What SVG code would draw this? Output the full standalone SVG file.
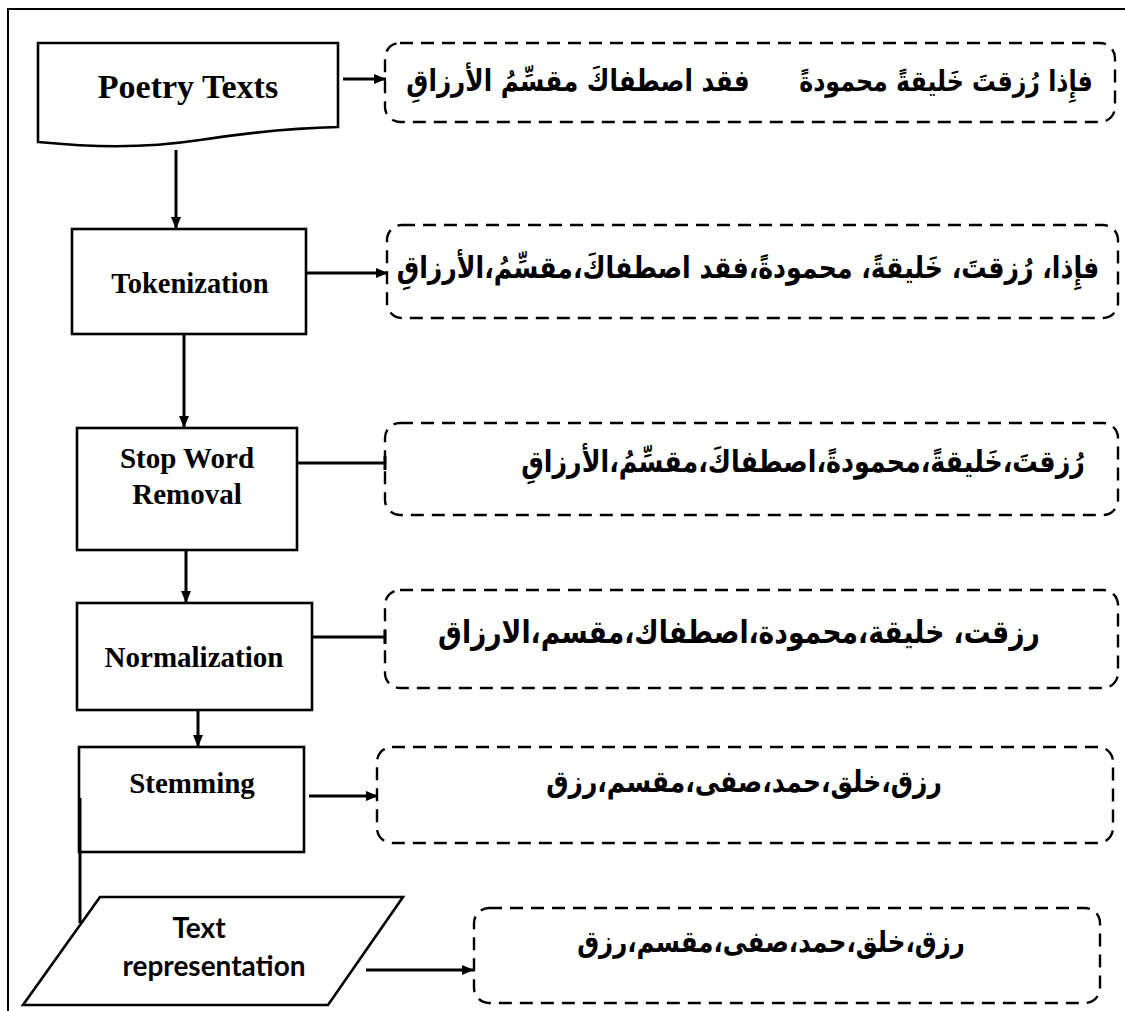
<svg xmlns="http://www.w3.org/2000/svg" width="1125" height="1011" viewBox="0 0 1125 1011">
  <style>
    .node { fill: #ffffff; stroke: #000000; stroke-width: 2.6; }
    .out { fill: #ffffff; stroke: #000000; stroke-width: 2.4; stroke-dasharray: 13 8; }
    .lbl { font-family: "Liberation Serif", "Times New Roman", serif; font-weight: bold; fill: #000000; text-anchor: middle; }
    .lbl2 { font-family: Lato, "Liberation Sans", sans-serif; font-weight: bold; fill: #000000; text-anchor: middle; }
    .ar { font-family: "DejaVu Sans", sans-serif; font-weight: bold; fill: #000000; text-anchor: middle; }
    .edge { fill: none; stroke: #000000; stroke-width: 3; }
    .frame { fill: none; stroke: #000000; stroke-width: 2; }
  </style>
  <defs>
    <marker id="arrow" markerUnits="userSpaceOnUse" markerWidth="14" markerHeight="14" viewBox="0 0 14 14" refX="13" refY="7" orient="auto">
      <path d="M1,2 L13,7 L1,12 Z" fill="#000000"/>
    </marker>
    <marker id="tick" markerUnits="userSpaceOnUse" markerWidth="4" markerHeight="16" viewBox="0 0 4 16" refX="2" refY="8" orient="auto">
      <rect x="0.5" y="1" width="3" height="14" fill="#000000"/>
    </marker>
  </defs>

  <rect width="1125" height="1011" fill="#ffffff"/>

  <!-- page frame -->
  <path class="frame" d="M1125,9 H8 V1011"/>

  <!-- process nodes -->
  <g id="poetry-texts">
    <path class="node" d="M38,43 H338 V127 C290,128 240,134 200,140 C140,149 90,147 38,142 Z"/>
    <text class="lbl" x="188" y="98" font-size="34">Poetry Texts</text>
  </g>
  <g id="tokenization">
    <rect class="node" x="72" y="229" width="234" height="105"/>
    <text class="lbl" x="190" y="293" font-size="28.5">Tokenization</text>
  </g>
  <g id="stop-word-removal">
    <rect class="node" x="77" y="428" width="220" height="122"/>
    <text class="lbl" x="187" y="468" font-size="29">Stop Word</text>
    <text class="lbl" x="187" y="504" font-size="29">Removal</text>
  </g>
  <g id="normalization">
    <rect class="node" x="77" y="603" width="235" height="107"/>
    <text class="lbl" x="194" y="667" font-size="29">Normalization</text>
  </g>
  <g id="stemming">
    <rect class="node" x="79" y="747" width="225" height="105"/>
    <text class="lbl" x="192" y="793" font-size="29">Stemming</text>
  </g>
  <g id="text-representation">
    <path class="node" d="M100,897 H403 L328,1005 H23 Z"/>
    <text class="lbl2" x="199" y="938" font-size="28">Text</text>
    <text class="lbl2" x="214" y="976" font-size="28">representation</text>
  </g>

  <!-- example outputs (Arabic lines drawn slightly taller than wide) -->
  <g id="out-poetry">
    <rect class="out" x="385" y="43" width="730" height="79" rx="15"/>
    <text class="ar" transform="translate(946,91) scale(1,1.2)" font-size="23.7" direction="rtl">فإِذا رُزقتَ خَليقةً محمودةً</text>
    <text class="ar" transform="translate(578,91) scale(1,1.2)" font-size="24.7" direction="rtl">فقد اصطفاكَ مقسِّمُ الأرزاقِ</text>
  </g>
  <g id="out-tokens">
    <rect class="out" x="387" y="225" width="731" height="93" rx="15"/>
    <text class="ar" transform="translate(748,278) scale(1,1.2)" font-size="25.2" direction="rtl">فإِذا، رُزقتَ، خَليقةً، محمودةً،فقد اصطفاكَ،مقسِّمُ،الأرزاقِ</text>
  </g>
  <g id="out-stopwords">
    <rect class="out" x="385" y="423" width="733" height="92" rx="15"/>
    <text class="ar" transform="translate(803,472) scale(1,1.2)" font-size="25.3" direction="rtl">رُزقتَ،خَليقةً،محمودةً،اصطفاكَ،مقسِّمُ،الأرزاقِ</text>
  </g>
  <g id="out-normalized">
    <rect class="out" x="385" y="590" width="733" height="98" rx="15"/>
    <text class="ar" transform="translate(739,643) scale(1,1.2)" font-size="26.6" direction="rtl">رزقت، خليقة،محمودة،اصطفاك،مقسم،الارزاق</text>
  </g>
  <g id="out-stems">
    <rect class="out" x="377" y="747" width="736" height="96" rx="15"/>
    <text class="ar" transform="translate(744,792) scale(1,1.2)" font-size="25" direction="rtl">رزق،خلق،حمد،صفى،مقسم،رزق</text>
  </g>
  <g id="out-representation">
    <rect class="out" x="474" y="908" width="626" height="95" rx="15"/>
    <text class="ar" transform="translate(771,952) scale(1,1.2)" font-size="24.5" direction="rtl">رزق،خلق،حمد،صفى،مقسم،رزق</text>
  </g>

  <!-- connectors -->
  <g id="connectors">
    <line class="edge" x1="343" y1="79" x2="386" y2="79" marker-end="url(#arrow)"/>
    <line class="edge" x1="176" y1="150" x2="176" y2="229" marker-end="url(#arrow)"/>
    <line class="edge" x1="306" y1="273" x2="388" y2="273" marker-end="url(#arrow)"/>
    <line class="edge" x1="184" y1="334" x2="184" y2="428" marker-end="url(#arrow)"/>
    <line class="edge" x1="297" y1="463" x2="385" y2="463" marker-end="url(#tick)"/>
    <line class="edge" x1="186" y1="550" x2="186" y2="603" marker-end="url(#arrow)"/>
    <line class="edge" x1="312" y1="637" x2="385" y2="637" marker-end="url(#tick)"/>
    <line class="edge" x1="198" y1="710" x2="198" y2="747" marker-end="url(#arrow)"/>
    <line class="edge" x1="309" y1="796" x2="378" y2="796" marker-end="url(#arrow)"/>
    <line class="edge" x1="80" y1="798" x2="80" y2="923"/>
    <line class="edge" x1="366" y1="970" x2="474" y2="970" marker-end="url(#arrow)"/>
  </g>
</svg>
